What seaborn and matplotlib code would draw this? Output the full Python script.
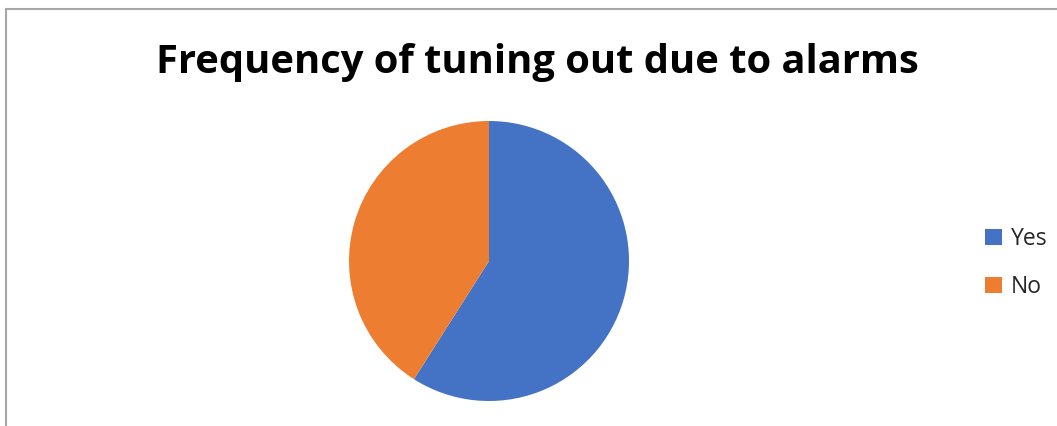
import matplotlib
matplotlib.use("Agg")
import matplotlib.pyplot as plt
import seaborn as sns
from matplotlib.patches import Rectangle, Patch

sns.set_theme(style="white")
plt.rcParams['font.family'] = ['Open Sans', 'DejaVu Sans']

title = "Frequency of tuning out due to alarms"
categories = ["Yes", "No"]
values = [59, 41]
colors = ["#4472C4", "#ED7D31"]

W, H = 1057, 426
fig = plt.figure(figsize=(W / 100, H / 100), dpi=100)
fig.patch.set_facecolor("white")

# chart border (extends beyond right/bottom edges)
fig.patches.append(Rectangle((6 / W, -0.1), 1.2, (H - 9) / H + 0.1,
                             transform=fig.transFigure, fill=False,
                             edgecolor="#A6A6A6", linewidth=1.5))

cx, cy, r = 489, 261, 140
ax = fig.add_axes([(cx - r) / W, (H - cy - r) / H, 2 * r / W, 2 * r / H])
ax.pie(values, colors=colors, startangle=90, counterclock=False,
       wedgeprops=dict(linewidth=0))
ax.set_xlim(-1, 1)
ax.set_ylim(-1, 1)
ax.set_aspect("equal")
ax.axis("off")

fig.text(537 / W, 1 - 63 / H, title, ha="center", va="center",
         fontsize=28.7, fontweight="bold", color="black")

handles = [Patch(facecolor=c, edgecolor="none") for c in colors]
fig.legend(handles, categories, loc="center left",
           bbox_to_anchor=(964 / W, 1 - 263 / H), frameon=False,
           fontsize=16.5, handlelength=0.75, handleheight=0.75,
           handletextpad=0.4, labelspacing=1.05)

fig.savefig("out.png", dpi=100)
